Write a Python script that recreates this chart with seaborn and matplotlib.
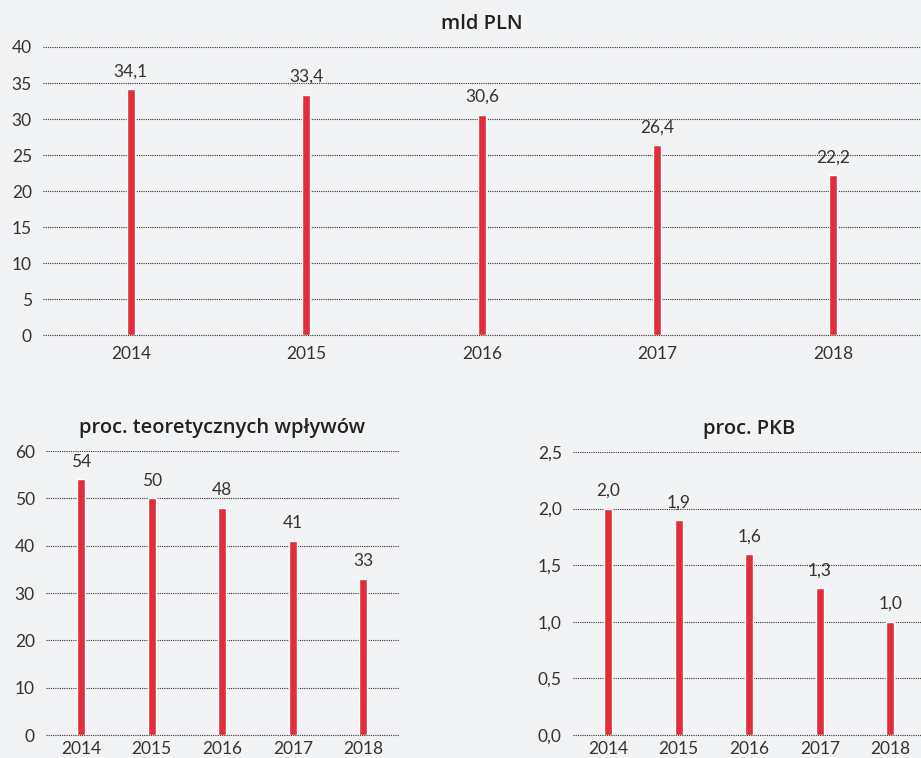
import matplotlib
matplotlib.use("Agg")
import matplotlib.pyplot as plt
from matplotlib.ticker import FuncFormatter, MultipleLocator
import seaborn as sns
import pandas as pd

# Data
years = ["2014", "2015", "2016", "2017", "2018"]
mld_pln = [34.1, 33.4, 30.6, 26.4, 22.2]
proc_wplywow = [54, 50, 48, 41, 33]
proc_pkb = [2.0, 1.9, 1.6, 1.3, 1.0]

BG = "#f2f3f5"
RED = "#e02e3a"
TXT = "#333333"
GRID = dict(linestyle=(0, (1, 1)), color="#333333", linewidth=0.8)

sns.set_theme(style="white")
plt.rcParams["font.family"] = ["Lato", "DejaVu Sans"]

fig = plt.figure(figsize=(9.21, 7.58), dpi=100)
fig.patch.set_facecolor(BG)


def comma(decimals):
    return FuncFormatter(lambda v, _: f"{v:.{decimals}f}".replace(".", ","))


def panel(rect, values, title, ymax, step, tick_dec, label_dec, width, xpad):
    ax = fig.add_axes(rect)
    ax.set_facecolor(BG)
    df = pd.DataFrame({"rok": years, "wartosc": values})
    sns.barplot(data=df, x="rok", y="wartosc", color=RED, width=width,
                saturation=1, ax=ax, zorder=3)
    ax.set_xlim(-0.5, len(years) - 0.5)
    ax.set_ylim(0, ymax)
    ax.yaxis.set_major_locator(MultipleLocator(step))
    ax.yaxis.set_major_formatter(comma(tick_dec))
    ax.grid(axis="y", zorder=0, **GRID)
    ax.grid(axis="x", visible=False)
    ax.axhline(0, clip_on=False, zorder=1, **GRID)
    ax.set_axisbelow(True)
    for s in ax.spines.values():
        s.set_visible(False)
    ax.set_xlabel("")
    ax.set_ylabel("")
    ax.tick_params(axis="both", length=0, labelsize=12.5, colors=TXT)
    ax.tick_params(axis="y", pad=8)
    ax.tick_params(axis="x", pad=xpad)
    for i, v in enumerate(values):
        ax.annotate(f"{v:.{label_dec}f}".replace(".", ","), (i, v),
                    xytext=(0, 7), textcoords="offset points",
                    ha="center", va="bottom", fontsize=12.5, color=TXT)
    ax.set_title(title, fontsize=14.5, color="#222222", pad=13,
                 family=["Open Sans", "DejaVu Sans"], fontweight="semibold")
    return ax


panel([0.0467, 0.558, 0.953, 0.380], mld_pln, "mld PLN", 40, 5, 0, 1,
      0.045, 8)
panel([0.0499, 0.0303, 0.383, 0.3747], proc_wplywow,
      "proc. teoretycznych wpływów", 60, 10, 0, 0, 0.113, 4)
panel([0.622, 0.0303, 0.383, 0.3734], proc_pkb, "proc. PKB", 2.5, 0.5, 1, 1,
      0.113, 4)

fig.savefig("out.png", dpi=100, facecolor=BG)
